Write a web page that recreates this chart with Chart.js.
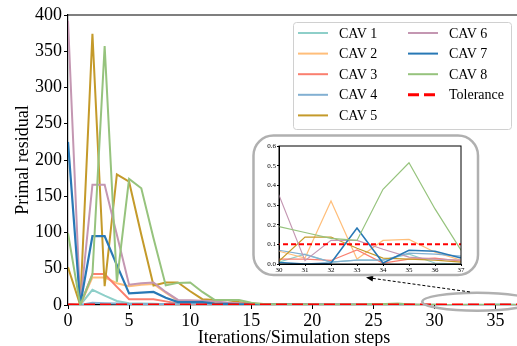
<!DOCTYPE html>
<html><head><meta charset="utf-8">
<script src="https://cdn.jsdelivr.net/npm/chart.js@4.4.0/dist/chart.umd.min.js"></script>
<style>
html,body{margin:0;padding:0;overflow:hidden;background:#fff;width:517px;height:346px;}
#wrap{position:relative;width:517px;height:346px;overflow:hidden;}
#main{position:absolute;left:0;top:0;}
#inset{position:absolute;left:252px;top:134px;}
.pre{font-family:'Liberation Serif';position:absolute;left:-999px;top:-999px;}
</style></head><body>
<div class="pre">Primal residual 0123456789 CAV Tolerance</div>
<div id="wrap"><canvas id="main" width="522" height="346"></canvas><canvas id="inset" width="228" height="144"></canvas></div>
<script>
const steps = [0,1,2,3,4,5,6,7,8,9,10,11,12,13,14,15,16,17,18,19,20,21,22,23,24,25,26,27,28,29,30,31,32,33,34,35,36,37];
const cav1 = [0.5,0,21,13,5.5,2.3,2,1.6,1.2,0.9, 0.7,0.6,0.5,0.4,0.35,0.3,0.25,0.2,0.18,0.15, 0.13,0.12,0.1,0.09,0.08,0.07,0.06,0.06,0.05,0.04, 0.01,0.05,0.01,0.02,0.02,0.05,0.005,0.0];
const cav2 = [1,0,38,38,30,26,28,29,17,6, 5,4,3,2,1.5,1.2,1,0.8,0.7,0.6, 0.5,0.45,0.4,0.35,0.3,0.28,0.25,0.22,0.2,0.15, 0.065,0.03,0.32,0.025,0.12,0.125,0.06,0.02];
const cav3 = [1,0,42.7,42.7,25,8,8,8,5,2, 1.5,1.2,1,0.8,0.6,0.5,0.4,0.35,0.3,0.25, 0.2,0.18,0.15,0.12,0.1,0.09,0.08,0.07,0.06,0.04, 0.025,0.025,0.018,0.072,0.005,0.025,0.03,0.015];
const cav4 = [1,0,3,2.5,2,1.5,1.3,1.2,1.5,2, 2.5,2,1.5,1,0.8,0.6,0.5,0.45,0.4,0.35, 0.3,0.25,0.2,0.18,0.15,0.12,0.1,0.1,0.09,0.08, 0.07,0.048,0.01,0.02,0.02,0.055,0.05,0.04];
const cav5 = [52,0,374,26,180,170,97,27,31,31, 19,8,7,7,4,1.5,1,0.8,0.6,0.5, 0.4,0.35,0.3,0.25,0.2,0.2,0.15,0.15,0.1,0.05, 0.015,0.137,0.137,0.08,0.03,0.025,0.02,0.01];
const cav6 = [392,0,166,166,97,28,30,31,18,7, 6.5,6,5,3.5,2.5,1.5,1,0.8,0.7,0.6, 0.5,0.45,0.4,0.38,0.35,0.32,0.3,0.3,0.28,0.3, 0.35,0.017,0.12,0.12,0.075,0.035,0.025,0.02];
const cav7 = [225,0,95,95,55,16,17,18,10,4, 4,4,2,1.5,1,0.8,0.6,0.5,0.4,0.3, 0.25,0.2,0.18,0.15,0.12,0.1,0.08,0.07,0.05,0.03, 0.008,0.0,0.005,0.183,0.005,0.07,0.065,0.03];
const cav8 = [99,0,42,357,32,174,161,92,27,30.5, 31,18,7,7,7,3,1.5,1,0.8,0.6, 0.5,0.4,0.3,0.3,0.5,1,1.5,2,0.8,0.3, 0.19,0.16,0.13,0.12,0.38,0.515,0.28,0.07];
const tolerance = 0.1;
const seriesNames = ['CAV 1','CAV 2','CAV 3','CAV 4','CAV 5','CAV 6','CAV 7','CAV 8'];
const seriesValues = [cav1,cav2,cav3,cav4,cav5,cav6,cav7,cav8];
const seriesColors = ['#8ECFC9','#FFBE7A','#FA7F6F','#82B0D2','#C49A2A','#C497B2','#2878B5','#96C37D'];
const toleranceLabel = 'Tolerance';
const xTitle = 'Iterations/Simulation steps';
const yTitle = 'Primal residual';

const SERIF = "Liberation Serif, Times New Roman, DejaVu Serif, serif";

function buildDatasets(lw, blueLw, tolLw, tolDash){
  const ds = seriesValues.map((vals,i)=>({
    label: seriesNames[i],
    data: steps.map((s,j)=>({x:s,y:vals[j]})),
    borderColor: seriesColors[i],
    backgroundColor: seriesColors[i],
    borderWidth: i===6 ? blueLw : lw,
    pointRadius: 0, tension: 0, fill:false,
    order: 8 - i + 1
  }));
  ds.push({
    label: toleranceLabel,
    data: [{x:steps[0],y:tolerance},{x:steps[steps.length-1],y:tolerance}],
    borderColor:'#FF0000', backgroundColor:'#FF0000',
    borderWidth: tolLw, borderDash: tolDash,
    pointRadius:0, tension:0, fill:false, order:0
  });
  return ds;
}

const mainDecor = {
  id:'mainDecor',
  afterDatasetsDraw(chart){
    const ctx = chart.ctx, a = chart.chartArea;
    const xs = chart.scales.x, ys = chart.scales.y;
    ctx.save();
    ctx.strokeStyle='#000'; ctx.lineWidth=1.2;
    ctx.beginPath(); ctx.moveTo(a.left, a.top); ctx.lineTo(a.right+5, a.top); ctx.stroke();
    const cx = xs.getPixelForValue(33.5), cy = ys.getPixelForValue(4.5);
    const rx = xs.getPixelForValue(38) - cx, ry = cy - ys.getPixelForValue(16.9);
    ctx.strokeStyle='#B0B0B0'; ctx.lineWidth=2.5;
    ctx.beginPath(); ctx.ellipse(cx, cy, rx, ry, 0, 0, Math.PI*2); ctx.stroke();
    const tx = xs.getPixelForValue(32.9), ty = ys.getPixelForValue(18);
    const hx = xs.getPixelForValue(24.4), hy = ys.getPixelForValue(38);
    const ang = Math.atan2(hy-ty, hx-tx);
    ctx.strokeStyle='#000'; ctx.lineWidth=1; ctx.setLineDash([3,2]);
    ctx.beginPath(); ctx.moveTo(tx,ty); ctx.lineTo(hx - 5*Math.cos(ang), hy - 5*Math.sin(ang)); ctx.stroke();
    ctx.setLineDash([]);
    ctx.fillStyle='#000';
    ctx.beginPath();
    ctx.moveTo(hx,hy);
    ctx.lineTo(hx - 7*Math.cos(ang) + 3*Math.sin(ang), hy - 7*Math.sin(ang) - 3*Math.cos(ang));
    ctx.lineTo(hx - 7*Math.cos(ang) - 3*Math.sin(ang), hy - 7*Math.sin(ang) + 3*Math.cos(ang));
    ctx.closePath(); ctx.fill();
    const bx=293, by=22, bw=218, bh=107;
    ctx.fillStyle='rgba(255,255,255,0.85)'; ctx.strokeStyle='#D0D0D0'; ctx.lineWidth=1;
    ctx.beginPath(); ctx.roundRect(bx+0.5,by+0.5,bw,bh,3); ctx.fill(); ctx.stroke();
    const dsets = chart.data.datasets;
    const order = [[0,1,2,3,4],[5,6,7,8]];
    const colX = [298, 408], rowY0 = 33, rowH = 20.6;
    ctx.font = "14px " + SERIF; ctx.textBaseline='middle'; ctx.textAlign='left';
    order.forEach((col,ci)=>{
      col.forEach((di,ri)=>{
        const d = dsets[di];
        const y = rowY0 + ri*rowH;
        ctx.strokeStyle = d.borderColor;
        ctx.lineWidth = di===8 ? 3 : 2;
        ctx.setLineDash(di===8 ? [11,5] : []);
        ctx.beginPath(); ctx.moveTo(colX[ci], y); ctx.lineTo(colX[ci]+30, y); ctx.stroke();
        ctx.setLineDash([]);
        ctx.fillStyle='#000';
        ctx.fillText(d.label, colX[ci]+41, y+1);
      });
    });
    ctx.restore();
  }
};

const insetDecor = {
  id:'insetDecor',
  beforeDraw(chart){
    const ctx = chart.ctx;
    ctx.save();
    ctx.fillStyle='#fff'; ctx.strokeStyle='#B0B0B0'; ctx.lineWidth=2.5;
    ctx.beginPath(); ctx.roundRect(1.5,1.5,224.5,139.5,20); ctx.fill(); ctx.stroke();
    ctx.restore();
  },
  afterDraw(chart){
    const ctx = chart.ctx, a = chart.chartArea;
    ctx.save(); ctx.strokeStyle='#000'; ctx.lineWidth=1;
    ctx.strokeRect(a.left, a.top, a.right-a.left, a.bottom-a.top);
    ctx.restore();
  }
};

function draw(){
  Chart.defaults.font.family = SERIF;
  new Chart(document.getElementById('main'), {
    type:'line',
    data:{ datasets: buildDatasets(2, 2.2, 3, [11,5]) },
    options:{
      responsive:false, animation:false, devicePixelRatio:1,
      layout:{ padding:{ top:15, right:2, left:0, bottom:0 } },
      plugins:{ legend:{display:false}, tooltip:{enabled:false} },
      scales:{
        x:{ type:'linear', min:0, max:37,
          ticks:{ stepSize:5, includeBounds:false, color:'#000', font:{family:SERIF, size:18}, padding:1, maxRotation:0 },
          grid:{ drawOnChartArea:false, drawTicks:true, tickLength:4, color:'#000' },
          border:{ display:true, color:'#000', width:1.2 },
          title:{ display:true, text:xTitle, color:'#000', font:{family:SERIF, size:18, lineHeight:1}, padding:{top:0,bottom:-1} },
          afterFit(s){ s.height = 41; }
        },
        y:{ type:'linear', min:0, max:400,
          ticks:{ stepSize:50, color:'#000', font:{family:SERIF, size:18}, padding:2 },
          grid:{ drawOnChartArea:false, drawTicks:true, tickLength:4, color:'#000' },
          border:{ display:true, color:'#000', width:1.2 },
          title:{ display:true, text:yTitle, color:'#000', font:{family:SERIF, size:18, lineHeight:1}, padding:{top:14,bottom:0} },
          afterFit(s){ s.width = 68; }
        }
      }
    },
    plugins:[mainDecor]
  });

  new Chart(document.getElementById('inset'), {
    type:'line',
    data:{ datasets: buildDatasets(1.2, 1.6, 2, [5,3]) },
    options:{
      responsive:false, animation:false, devicePixelRatio:1,
      layout:{ padding:{ top:12, right:19, left:0, bottom:0 } },
      plugins:{ legend:{display:false}, tooltip:{enabled:false} },
      scales:{
        x:{ type:'linear', min:30, max:37,
          ticks:{ stepSize:1, color:'#000', font:{family:SERIF, size:7}, padding:0, maxRotation:0 },
          grid:{ drawOnChartArea:false, drawTicks:true, tickLength:2, color:'#000' },
          border:{ display:true, color:'#000', width:1 },
          afterFit(s){ s.height = 14; }
        },
        y:{ type:'linear', min:0, max:0.6,
          ticks:{ stepSize:0.1, color:'#000', font:{family:SERIF, size:7}, padding:1, callback:v=>Number(v).toFixed(1) },
          grid:{ drawOnChartArea:false, drawTicks:true, tickLength:2, color:'#000' },
          border:{ display:true, color:'#000', width:1 },
          afterFit(s){ s.width = 27; }
        }
      }
    },
    plugins:[insetDecor]
  });
}

let started = false;
function go(){ if(!started){ started = true; draw(); } }
if (document.fonts && document.fonts.load) {
  Promise.all([
    document.fonts.load("18px 'Liberation Serif'"),
    document.fonts.load("7px 'Liberation Serif'")
  ]).then(go, go);
  setTimeout(go, 1500);
} else { go(); }
</script>
</body></html>
